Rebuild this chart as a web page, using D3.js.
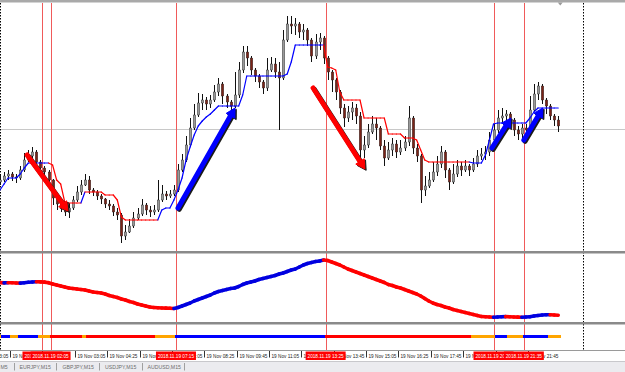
<!DOCTYPE html>
<html><head><meta charset="utf-8">
<script src="https://cdn.jsdelivr.net/npm/d3@7"></script>
<style>body{margin:0;background:#fff;overflow:hidden}svg{display:block}</style>
</head><body><svg id="c" width="625" height="372"></svg>
<script>
// ---------------- DATA ----------------
const sessionStart = "2018-11-19 00:00";
const sessionEnd = "2018-11-20 00:00";
const barMinutes = 10;
const opens = [
1.14136,1.14140,1.14148,1.14152,1.14146,1.14144,1.14160,1.14180,1.14188,1.14196,
1.14176,1.14164,1.14156,1.14140,1.14104,1.14092,1.14088,1.14076,1.14084,1.14100,
1.14116,1.14130,1.14140,1.14120,1.14116,1.14108,1.14102,1.14092,1.14088,1.14076,
1.14070,1.14028,1.14036,1.14048,1.14064,1.14072,1.14090,1.14080,1.14076,1.14080,
1.14100,1.14112,1.14108,1.14112,1.14120,1.14160,1.14180,1.14210,1.14244,1.14270,
1.14294,1.14300,1.14292,1.14300,1.14316,1.14332,1.14308,1.14296,1.14288,1.14310,
1.14360,1.14396,1.14384,1.14360,1.14348,1.14336,1.14324,1.14360,1.14372,1.14356,
1.14344,1.14420,1.14452,1.14448,1.14452,1.14436,1.14440,1.14420,1.14388,1.14416,
1.14424,1.14384,1.14356,1.14340,1.14316,1.14284,1.14264,1.14276,1.14284,1.14268,
1.14200,1.14210,1.14236,1.14252,1.14244,1.14208,1.14184,1.14200,1.14212,1.14196,
1.14204,1.14216,1.14264,1.14204,1.14188,1.14120,1.14128,1.14140,1.14156,1.14172,
1.14196,1.14160,1.14136,1.14152,1.14168,1.14160,1.14168,1.14160,1.14172,1.14188,
1.14192,1.14196,1.14220,1.14240,1.14264,1.14268,1.14272,1.14260,1.14240,1.14232,
1.14244,1.14240,1.14280,1.14312,1.14328,1.14300,1.14288,1.14268,1.14260];
const highs = [
1.14150,1.14156,1.14160,1.14156,1.14152,1.14168,1.14194,1.14200,1.14206,1.14200,
1.14180,1.14168,1.14160,1.14142,1.14108,1.14104,1.14092,1.14094,1.14108,1.14128,
1.14140,1.14152,1.14148,1.14124,1.14120,1.14112,1.14104,1.14100,1.14092,1.14084,
1.14074,1.14050,1.14062,1.14076,1.14084,1.14102,1.14094,1.14088,1.14090,1.14140,
1.14130,1.14118,1.14120,1.14130,1.14172,1.14192,1.14228,1.14264,1.14292,1.14314,
1.14312,1.14306,1.14310,1.14330,1.14344,1.14336,1.14312,1.14300,1.14356,1.14376,
1.14408,1.14408,1.14388,1.14364,1.14352,1.14340,1.14384,1.14386,1.14384,1.14376,
1.14440,1.14468,1.14468,1.14464,1.14456,1.14452,1.14444,1.14424,1.14432,1.14434,
1.14428,1.14388,1.14360,1.14344,1.14320,1.14292,1.14288,1.14296,1.14292,1.14276,
1.14228,1.14252,1.14268,1.14264,1.14248,1.14220,1.14216,1.14224,1.14220,1.14220,
1.14228,1.14288,1.14268,1.14212,1.14192,1.14148,1.14156,1.14176,1.14188,1.14208,
1.14200,1.14164,1.14172,1.14180,1.14176,1.14180,1.14172,1.14184,1.14200,1.14204,
1.14208,1.14236,1.14252,1.14280,1.14284,1.14280,1.14276,1.14264,1.14248,1.14252,
1.14252,1.14308,1.14332,1.14336,1.14332,1.14304,1.14292,1.14272,1.14268];
const lows = [
1.14130,1.14136,1.14140,1.14138,1.14134,1.14140,1.14156,1.14176,1.14184,1.14164,
1.14152,1.14146,1.14128,1.14090,1.14080,1.14076,1.14068,1.14064,1.14080,1.14096,
1.14110,1.14128,1.14112,1.14108,1.14100,1.14092,1.14084,1.14080,1.14068,1.14060,
1.14014,1.14020,1.14034,1.14044,1.14060,1.14068,1.14070,1.14066,1.14070,1.14076,
1.14096,1.14100,1.14104,1.14108,1.14116,1.14156,1.14176,1.14206,1.14240,1.14266,
1.14280,1.14280,1.14284,1.14296,1.14308,1.14292,1.14284,1.14274,1.14284,1.14304,
1.14354,1.14368,1.14350,1.14336,1.14324,1.14312,1.14318,1.14356,1.14344,1.14240,
1.14340,1.14416,1.14432,1.14430,1.14424,1.14420,1.14408,1.14376,1.14382,1.14400,
1.14372,1.14340,1.14316,1.14300,1.14272,1.14246,1.14256,1.14260,1.14252,1.14168,
1.14184,1.14204,1.14232,1.14220,1.14200,1.14168,1.14180,1.14188,1.14184,1.14190,
1.14198,1.14208,1.14192,1.14176,1.14094,1.14108,1.14124,1.14136,1.14148,1.14164,
1.14144,1.14120,1.14132,1.14146,1.14148,1.14156,1.14148,1.14156,1.14166,1.14180,
1.14180,1.14188,1.14214,1.14234,1.14252,1.14256,1.14248,1.14228,1.14220,1.14224,
1.14228,1.14232,1.14276,1.14300,1.14292,1.14272,1.14260,1.14248,1.14236];
const closes = [
1.14140,1.14148,1.14152,1.14146,1.14144,1.14160,1.14180,1.14188,1.14196,1.14176,
1.14164,1.14156,1.14140,1.14104,1.14092,1.14088,1.14076,1.14084,1.14100,1.14116,
1.14130,1.14140,1.14120,1.14116,1.14108,1.14102,1.14092,1.14088,1.14076,1.14070,
1.14028,1.14036,1.14048,1.14064,1.14072,1.14090,1.14080,1.14076,1.14080,1.14100,
1.14112,1.14108,1.14112,1.14120,1.14160,1.14180,1.14210,1.14244,1.14270,1.14294,
1.14300,1.14292,1.14300,1.14316,1.14332,1.14308,1.14296,1.14288,1.14310,1.14360,
1.14396,1.14384,1.14360,1.14348,1.14336,1.14324,1.14360,1.14372,1.14356,1.14344,
1.14420,1.14452,1.14448,1.14452,1.14436,1.14440,1.14420,1.14388,1.14416,1.14424,
1.14384,1.14356,1.14340,1.14316,1.14284,1.14264,1.14276,1.14284,1.14268,1.14200,
1.14210,1.14236,1.14252,1.14244,1.14208,1.14184,1.14200,1.14212,1.14196,1.14204,
1.14216,1.14264,1.14204,1.14188,1.14120,1.14128,1.14140,1.14156,1.14172,1.14196,
1.14160,1.14136,1.14152,1.14168,1.14160,1.14168,1.14160,1.14172,1.14188,1.14192,
1.14196,1.14220,1.14240,1.14264,1.14268,1.14272,1.14260,1.14240,1.14232,1.14244,
1.14240,1.14280,1.14312,1.14328,1.14300,1.14288,1.14268,1.14260,1.14248];
// trailing-stop (supertrend style) line and its direction (1 = up/blue, -1 = down/red)
const stopLine = [
1.14120,1.14132,1.14144,1.14144,1.14144,1.14152,1.14164,1.14174,1.14174,1.14174,
1.14174,1.14174,1.14174,1.14170,1.14140,1.14132,1.14096,1.14094,1.14094,1.14094,
1.14094,1.14116,1.14116,1.14116,1.14116,1.14116,1.14110,1.14110,1.14110,1.14100,
1.14066,1.14060,1.14060,1.14060,1.14060,1.14060,1.14060,1.14060,1.14060,1.14060,
1.14080,1.14084,1.14084,1.14100,1.14120,1.14144,1.14180,1.14206,1.14230,1.14248,
1.14258,1.14266,1.14272,1.14280,1.14288,1.14288,1.14288,1.14288,1.14288,1.14288,
1.14310,1.14348,1.14348,1.14348,1.14348,1.14348,1.14348,1.14348,1.14348,1.14348,
1.14348,1.14352,1.14376,1.14410,1.14410,1.14410,1.14410,1.14410,1.14410,1.14410,
1.14410,1.14366,1.14364,1.14360,1.14316,1.14300,1.14300,1.14300,1.14300,1.14300,
1.14264,1.14264,1.14264,1.14264,1.14264,1.14264,1.14232,1.14232,1.14232,1.14232,
1.14224,1.14224,1.14224,1.14220,1.14200,1.14180,1.14176,1.14176,1.14176,1.14176,
1.14176,1.14176,1.14176,1.14176,1.14176,1.14176,1.14176,1.14174,1.14174,1.14174,
1.14190,1.14220,1.14252,1.14254,1.14254,1.14254,1.14254,1.14254,1.14254,1.14254,
1.14254,1.14264,1.14276,1.14284,1.14284,1.14284,1.14284,1.14284,1.14284];
const stopTrendRuns = [[1,13],[-1,8],[1,1],[-1,18],[1,41],[-1,36],[1,22]];
// oscillator in the first sub-window
const oscValues = [
38.4,38.1,38.3,38.2,38.0,37.9,38.3,38.7,39.0,39.2,
39.1,38.9,38.3,37.0,36.0,35.0,34.0,33.0,32.5,32.0,
31.5,31.0,30.0,29.0,28.5,28.0,27.0,25.5,24.5,23.5,
22.0,21.0,19.5,18.5,17.0,16.0,15.0,14.0,13.5,13.2,
13.0,12.9,12.7,12.5,13.5,15.0,16.5,18.0,20.0,21.5,
23.0,24.5,26.0,28.0,29.5,30.5,31.5,32.5,33.0,34.5,
36.5,38.0,39.0,40.0,41.5,42.5,43.5,44.5,45.5,47.0,
48.0,49.5,51.0,52.0,54.0,56.0,57.5,58.5,59.5,60.0,
61.0,60.5,59.0,57.5,56.0,54.0,52.0,50.5,49.0,47.5,
46.0,44.5,43.0,41.5,40.0,38.5,36.5,35.5,34.0,33.0,
31.5,30.0,28.5,27.0,25.0,22.5,20.0,18.0,16.5,15.5,
14.0,13.0,11.5,10.5,9.5,8.5,7.5,6.5,5.5,4.5,
4.2,4.0,3.8,4.0,4.2,4.4,4.2,4.0,3.9,3.8,
4.0,4.3,5.0,5.5,6.0,6.2,6.3,6.0,5.8];
// signal bar in the second sub-window: b = buy, r = sell, o = neutral
const signalRuns = [["o",1],["b",2],["o",2],["b",5],["o",3],["r",8],["o",1],["r",17],["o",5],
  ["b",37],["r",36],["o",6],["b",3],["o",4],["b",6],["o",3]];
const markerTimes = ["2018-11-19 01:45","2018-11-19 02:05","2018-11-19 07:15","2018-11-19 13:25","2018-11-19 20:20","2018-11-19 21:35"];
// time-axis ticks; the 01:45 and 20:25 labels are fully hidden under marker labels in the original
const tickTimes = ["2018-11-18 23:05","2018-11-19 00:25","2018-11-19 01:45","2018-11-19 03:05","2018-11-19 04:25",
  "2018-11-19 05:45","2018-11-19 07:05","2018-11-19 08:25","2018-11-19 09:45","2018-11-19 11:05","2018-11-19 12:25",
  "2018-11-19 13:45","2018-11-19 15:05","2018-11-19 16:25","2018-11-19 17:45","2018-11-19 19:05","2018-11-19 20:25","2018-11-19 21:45"];
const hiddenTickLabels = ["2018-11-19 01:45","2018-11-19 20:25"];
const separatorTimes = ["2018-11-19 00:00","2018-11-20 00:00"];
const levelPrice = 1.14242;
const shiftMarkTime = "2018-11-19 23:05";
const arrowFromTimes = ["2018-11-19 01:07","2018-11-19 07:20","2018-11-19 12:54","2018-11-19 20:16","2018-11-19 21:35"];
const arrowFromPrices = [1.14190,1.14084,1.14324,1.14204,1.14220];
const arrowToTimes = ["2018-11-19 02:48","2018-11-19 09:41","2018-11-19 15:02","2018-11-19 21:03","2018-11-19 22:22"];
const arrowToPrices = [1.14078,1.14284,1.14162,1.14264,1.14284];
const arrowColors = ["#ff0000","#0000ff","#ff0000","#0000ff","#0000ff"];
const tabs = ["M5","EURJPY,M15","GBPJPY,M15","USDJPY,M15","AUDUSD,M15"];

// ---------------- DRAW ----------------
const W = 625, H = 372;
const svg = d3.select("#c");
const parse = d3.timeParse("%Y-%m-%d %H:%M");
const t0 = parse(sessionStart), t1 = parse(sessionEnd);
const x = d3.scaleTime().domain([t0, t1]).range([0, 582.5]);
const barTimes = closes.map((_, i) => d3.timeMinute.offset(t0, i * barMinutes));
const y = d3.scaleLinear().domain([1.14000, 1.14480]).range([250, 10]);
const yo = d3.scaleLinear().domain([0, 65]).range([321, 256]);
const FONT = "'Liberation Sans', Arial, sans-serif";

const expand = runs => runs.flatMap(([v, n]) => Array(n).fill(v));
const stopTrend = expand(stopTrendRuns);
const signals = expand(signalRuns);

svg.append("rect").attr("width", W).attr("height", H).attr("fill", "#fff");

const defs = svg.append("defs");
defs.append("clipPath").attr("id", "mainClip").append("rect").attr("x", 0).attr("y", 3).attr("width", W).attr("height", 248);
defs.append("clipPath").attr("id", "oscClip").append("rect").attr("x", 0).attr("y", 254).attr("width", W).attr("height", 68);

// top border
svg.append("rect").attr("x", 0).attr("y", 0).attr("width", W).attr("height", 2.5).attr("fill", "#a9a9a9");

// horizontal level line
svg.append("line").attr("x1", 0).attr("x2", W).attr("y1", Math.round(y(levelPrice)) + 0.5).attr("y2", Math.round(y(levelPrice)) + 0.5)
  .attr("stroke", "#c8c8c8").attr("stroke-width", 1);

// period separators (dotted)
separatorTimes.forEach(t => {
  const xx = Math.round(x(parse(t))) + 0.5;
  svg.append("line").attr("x1", xx).attr("x2", xx).attr("y1", 3).attr("y2", 350)
    .attr("stroke", "#000").attr("stroke-width", 1).attr("stroke-dasharray", "1.5,1.5");
});

// vertical marker lines
markerTimes.forEach(t => {
  const xx = Math.round(x(parse(t))) + 0.5;
  svg.append("line").attr("x1", xx).attr("x2", xx).attr("y1", 3).attr("y2", 350)
    .attr("stroke", "#f05a5a").attr("stroke-width", 1);
});

// candles
const gMain = svg.append("g").attr("clip-path", "url(#mainClip)");
const cand = gMain.selectAll("g.c").data(closes.map((c, i) => ({
  t: barTimes[i], o: opens[i], h: highs[i], l: lows[i], c
}))).join("g");
cand.append("line")
  .attr("x1", d => Math.round(x(d.t)) + 0.5).attr("x2", d => Math.round(x(d.t)) + 0.5)
  .attr("y1", d => y(d.h)).attr("y2", d => y(d.l))
  .attr("stroke", "#111").attr("stroke-width", 1);
cand.append("rect")
  .attr("x", d => Math.round(x(d.t)) - 0.75)
  .attr("width", 2.5)
  .attr("y", d => Math.min(y(d.o), y(d.c)))
  .attr("height", d => Math.max(1, Math.abs(y(d.o) - y(d.c))))
  .attr("fill", d => d.c >= d.o ? "#9a9a9a" : "#7a2418")
  .attr("stroke", "#222").attr("stroke-width", 0.4);

// trailing stop line, coloured by direction
for (let i = 1; i < stopLine.length; i++) {
  gMain.append("line")
    .attr("x1", x(barTimes[i - 1])).attr("y1", y(stopLine[i - 1]))
    .attr("x2", x(barTimes[i])).attr("y2", y(stopLine[i]))
    .attr("stroke", stopTrend[i] > 0 ? "#0000ff" : "#ff0000")
    .attr("stroke-width", 1.2).attr("stroke-linecap", "round");
}

// hand-drawn arrows
arrowColors.forEach((col, i) => {
  const x1 = x(parse(arrowFromTimes[i])), y1 = y(arrowFromPrices[i]);
  const x2 = x(parse(arrowToTimes[i])), y2 = y(arrowToPrices[i]);
  const dx = x2 - x1, dy = y2 - y1, len = Math.hypot(dx, dy);
  const ux = dx / len, uy = dy / len, px = -uy, py = ux;
  const L = 9, Wd = 5;
  const bx = x2 - ux * L, by = y2 - uy * L;
  const head = [[x2, y2], [bx + px * Wd, by + py * Wd], [bx - px * Wd, by - py * Wd]];
  [["#1a1a1a", 1.3, 1.3], [col, 0, 0]].forEach(([c, ox, oy]) => {
    const g = gMain.append("g").attr("transform", `translate(${ox},${oy})`);
    g.append("line").attr("x1", x1).attr("y1", y1).attr("x2", bx + ux * 2).attr("y2", by + uy * 2)
      .attr("stroke", c).attr("stroke-width", 5).attr("stroke-linecap", "round");
    g.append("polygon").attr("points", head.map(p => p.join(",")).join(" ")).attr("fill", c)
      .attr("stroke", c).attr("stroke-width", 1).attr("stroke-linejoin", "round");
  });
});

// shift marker triangle
{
  const sx = x(parse(shiftMarkTime));
  svg.append("polygon").attr("points", `${sx - 2.5},2.5 ${sx + 2.5},2.5 ${sx},5.5`).attr("fill", "#9a9a9a");
}

// panel separators
[[251, 253.5], [322, 324.5]].forEach(([a, b]) => {
  svg.append("rect").attr("x", 0).attr("y", a).attr("width", W).attr("height", b - a).attr("fill", "#8a8a8a");
});
svg.append("line").attr("x1", 0).attr("x2", W).attr("y1", 350.5).attr("y2", 350.5).attr("stroke", "#9a9a9a");

// oscillator
const gOsc = svg.append("g").attr("clip-path", "url(#oscClip)");
for (let i = 1; i < oscValues.length; i++) {
  gOsc.append("line")
    .attr("x1", x(barTimes[i - 1])).attr("y1", yo(oscValues[i - 1]))
    .attr("x2", x(barTimes[i])).attr("y2", yo(oscValues[i]))
    .attr("stroke", oscValues[i] >= oscValues[i - 1] ? "#0000e0" : "#ff0000")
    .attr("stroke-width", 3.6).attr("stroke-linecap", "round");
}

// signal bar
const sigColor = { b: "#0000ff", r: "#ff0000", o: "#ffa500" };
svg.append("g").attr("shape-rendering", "crispEdges").selectAll("rect").data(signals).join("rect")
  .attr("x", (d, i) => Math.floor(x(barTimes[i]) - 2.05))
  .attr("width", 5)
  .attr("y", 335).attr("height", 3)
  .attr("fill", d => sigColor[d]);

// time axis
const fmtTick = d3.timeFormat("%d %b %H:%M");
const fmtMark = d3.timeFormat("%Y.%m.%d %H:%M");
const gAx = svg.append("g");
tickTimes.forEach(t => {
  const xx = Math.round(x(parse(t))) + 0.5;
  gAx.append("line").attr("x1", xx).attr("x2", xx).attr("y1", 351).attr("y2", 357.5).attr("stroke", "#333");
  if (!hiddenTickLabels.includes(t)) {
    gAx.append("text").attr("x", xx + 2).attr("y", 357.8).text(fmtTick(parse(t)))
      .attr("font-family", FONT).attr("font-size", 4.7).attr("fill", "#222");
  }
});
markerTimes.forEach(t => {
  const xx = x(parse(t));
  gAx.append("rect").attr("x", xx - 20).attr("y", 351.5).attr("width", 40).attr("height", 8.5).attr("fill", "#ff0000");
  gAx.append("text").attr("x", xx).attr("y", 357.8).attr("text-anchor", "middle").text(fmtMark(parse(t)))
    .attr("font-family", FONT).attr("font-size", 4.7).attr("fill", "#fff");
});

// tab bar
svg.append("rect").attr("x", 0).attr("y", 361.5).attr("width", W).attr("height", 10.5).attr("fill", "#ebebef");
svg.append("line").attr("x1", 0).attr("x2", W).attr("y1", 361.5).attr("y2", 361.5).attr("stroke", "#c8c8cc");
const tabX = [0.5, 19.5, 62.5, 105, 147.5];
const sepX = [14.5, 56.5, 99.5, 142.5, 184.5];
tabs.forEach((s, i) => {
  svg.append("text").attr("x", tabX[i]).attr("y", 368.5).text(s)
    .attr("font-family", FONT).attr("font-size", 5.2).attr("fill", "#6e6e6e");
  svg.append("line").attr("x1", sepX[i]).attr("x2", sepX[i]).attr("y1", 363).attr("y2", 370.5).attr("stroke", "#a0a0a0");
});
</script></body></html>
